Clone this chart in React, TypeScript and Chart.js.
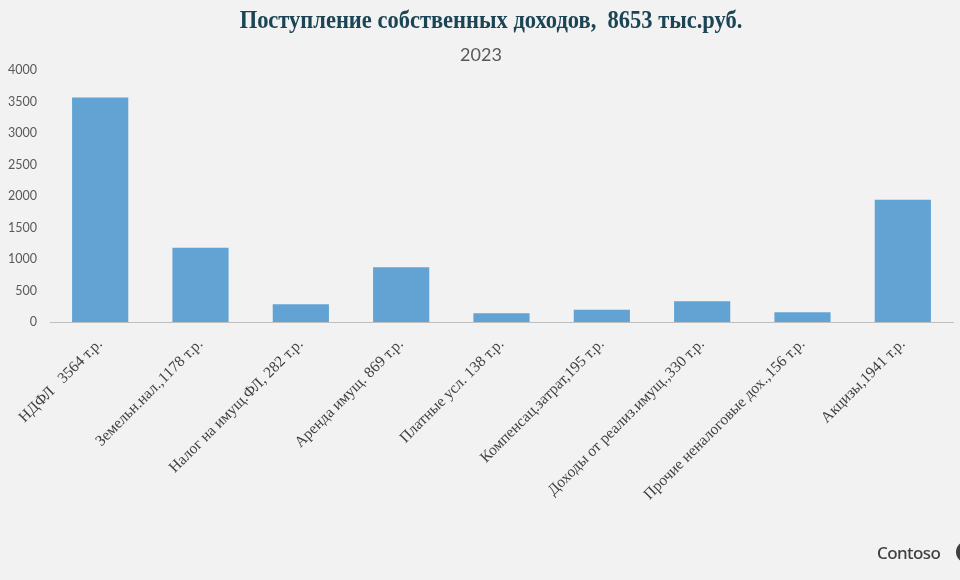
import React, { useEffect, useRef } from "react";
import { Chart, registerables } from "chart.js";

Chart.register(...registerables);

const titleText = "Поступление собственных доходов,  8653 тыс.руб.";
const subtitleText = "2023";

const categories = [
  "НДФЛ   3564 т.р.",
  "Земельн.нал.,1178 т.р.",
  "Налог на имущ.ФЛ, 282 т.р.",
  "Аренда имущ. 869 т.р.",
  "Платные усл. 138 т.р.",
  "Компенсац.затрат,195 т.р.",
  "Доходы от реализ.имущ.,330 т.р.",
  "Прочие неналоговые дох.,156 т.р.",
  "Акцизы,1941 т.р.",
];

const values = [3564, 1178, 282, 869, 138, 195, 330, 156, 1941];

const yMin = 0;
const yMax = 4000;
const yStep = 500;

const titlePlugin = {
  id: "customTitle",
  afterDraw(chart: any) {
    const ctx = chart.ctx;
    ctx.save();
    ctx.fillStyle = "#1b4454";
    ctx.font = "bold 26px 'Liberation Serif'";
    ctx.textAlign = "center";
    ctx.textBaseline = "alphabetic";
    ctx.translate(491, 28);
    ctx.scale(0.865, 1);
    ctx.fillText(titleText, 0, 0);
    ctx.restore();

    ctx.save();
    ctx.fillStyle = "#595959";
    ctx.font = "18px Lato";
    ctx.textAlign = "center";
    ctx.textBaseline = "alphabetic";
    ctx.fillText(subtitleText, 481, 61);
    ctx.restore();
  },
};

export default function App() {
  const ref = useRef<HTMLCanvasElement>(null);

  useEffect(() => {
    if (!ref.current) return;
    const chart = new Chart(ref.current, {
      type: "bar",
      data: {
        labels: categories,
        datasets: [
          {
            data: values,
            backgroundColor: "#62a3d4",
            borderWidth: 0,
            barPercentage: 0.56,
            categoryPercentage: 1,
          },
        ],
      },
      options: {
        responsive: false,
        animation: false,
        layout: { padding: { top: 70, left: 0, right: 7, bottom: 0 } },
        plugins: {
          legend: { display: false },
          title: { display: false },
          tooltip: { enabled: false },
        },
        scales: {
          x: {
            grid: { display: false },
            border: { display: true, color: "#bfbfbf", width: 1 },
            ticks: {
              maxRotation: 45,
              minRotation: 45,
              autoSkip: false,
              padding: 5,
              color: "#404040",
              font: { family: "'Liberation Serif'", size: 15.5 },
            },
            afterFit(scale: any) {
              scale.height = 258;
              scale.paddingLeft = 0;
              scale.paddingRight = 0;
            },
          },
          y: {
            min: yMin,
            max: yMax,
            grid: { display: false, drawTicks: false },
            border: { display: false },
            ticks: {
              stepSize: yStep,
              padding: 13,
              color: "#595959",
              font: { family: "Lato", size: 12.5 },
              callback: (v: any) => String(v),
            },
            afterFit(scale: any) {
              scale.width = 50;
              scale.paddingTop = 0;
              scale.paddingBottom = 0;
            },
          },
        },
      },
      plugins: [titlePlugin],
    });
    return () => chart.destroy();
  }, []);

  return (
    <div
      style={{
        position: "fixed",
        left: 0,
        top: 0,
        width: 960,
        height: 580,
        background: "#f2f2f2",
        overflow: "hidden",
      }}
    >
      <canvas ref={ref} width={960} height={580} style={{ display: "block" }} />
      <div
        style={{
          position: "absolute",
          left: 877,
          top: 541,
          fontFamily: "'Noto Sans', sans-serif",
          fontSize: 17,
          fontWeight: 500,
          color: "#3f3f3f",
          letterSpacing: -0.6,
        }}
      >
        Contoso
      </div>
      <div
        style={{
          position: "absolute",
          left: 956,
          top: 541,
          width: 22,
          height: 22,
          borderRadius: "50%",
          background: "#3f3f3f",
        }}
      />
    </div>
  );
}
